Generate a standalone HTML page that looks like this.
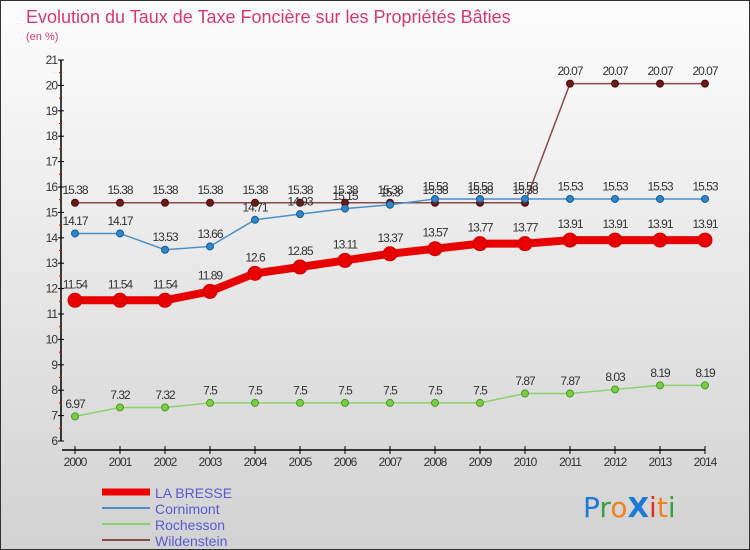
<!DOCTYPE html>
<html><head><meta charset="utf-8"><style>
body{margin:0;width:750px;height:550px;overflow:hidden;font-family:"Liberation Sans",sans-serif}
#c{position:absolute;left:0;top:0;width:748px;height:548px;border:1px solid #333;background:linear-gradient(#fdfdfd,#d2d2d2)}
</style></head><body>
<div id="c"></div>
<svg id="s" width="750" height="550" style="position:absolute;left:0;top:0">
<text x="26" y="23" font-size="18" fill="#d6396b">Evolution du Taux de Taxe Foncière sur les Propriétés Bâties</text>
<text x="26" y="40" font-size="11" fill="#d6396b">(en %)</text>
<g id="axes"></g><g id="series"></g>
<g>
<line x1="102" y1="492" x2="150" y2="492" stroke="#e00" stroke-width="7"/>
<text x="155" y="498" font-size="14" fill="#5a5ad0">LA BRESSE</text>
<line x1="102" y1="508" x2="150" y2="508" stroke="#4a90c8" stroke-width="2"/>
<text x="155" y="514" font-size="14" fill="#5a5ad0">Cornimont</text>
<line x1="102" y1="524" x2="150" y2="524" stroke="#8cd26a" stroke-width="2"/>
<text x="155" y="530" font-size="14" fill="#5a5ad0">Rochesson</text>
<line x1="102" y1="540" x2="150" y2="540" stroke="#8a4a4a" stroke-width="2"/>
<text x="155" y="546" font-size="14" fill="#5a5ad0">Wildenstein</text>
</g>
<g font-size="28" font-family="'DejaVu Sans',sans-serif">
<text x="583" y="517"><tspan fill="#1a7ad6">P</tspan><tspan fill="#3aa040">r</tspan><tspan fill="#f08020">o</tspan><tspan fill="#1a7ad6" font-weight="bold">X</tspan><tspan fill="#e03020">i</tspan><tspan fill="#f08020">t</tspan><tspan fill="#3aa040">i</tspan></text>
</g>
</svg>
<script>
const years=[2000,2001,2002,2003,2004,2005,2006,2007,2008,2009,2010,2011,2012,2013,2014];
const laBresse=[11.54,11.54,11.54,11.89,12.6,12.85,13.11,13.37,13.57,13.77,13.77,13.91,13.91,13.91,13.91];
const cornimont=[14.17,14.17,13.53,13.66,14.71,14.93,15.15,15.3,15.53,15.53,15.53,15.53,15.53,15.53,15.53];
const rochesson=[6.97,7.32,7.32,7.5,7.5,7.5,7.5,7.5,7.5,7.5,7.87,7.87,8.03,8.19,8.19];
const wildenstein=[15.38,15.38,15.38,15.38,15.38,15.38,15.38,15.38,15.38,15.38,15.38,20.07,20.07,20.07,20.07];
const yTicks=[6,7,8,9,10,11,12,13,14,15,16,17,18,19,20,21];
const NS="http://www.w3.org/2000/svg";
const X=i=>75+i*45.0;
const Y=v=>441-(v-6)*25.4;
function mk(t,a,p){const e=document.createElementNS(NS,t);for(const k in a)e.setAttribute(k,a[k]);p.appendChild(e);return e;}
const ax=document.getElementById('axes');
let l=mk('line',{x1:61,y1:Y(21),x2:61,y2:Y(6),stroke:'#000','stroke-width':1.5},ax);


l=mk('line',{x1:62,y1:450,x2:X(14),y2:450,stroke:'#000','stroke-width':1.5},ax);


yTicks.forEach(v=>{
 mk('line',{x1:58,y1:Y(v),x2:64,y2:Y(v),stroke:'#000'},ax);
 if(v<21) mk('line',{x1:59,y1:Y(v+0.5),x2:62,y2:Y(v+0.5),stroke:'#e00'},ax);
 const t=mk('text',{x:57,y:Y(v)+4,'text-anchor':'end','font-size':12,fill:'#333','letter-spacing':'-1'},ax);
 t.textContent=v;
 
 
});
years.forEach((yr,i)=>{
 mk('line',{x1:X(i),y1:446,x2:X(i),y2:454,stroke:'#000'},ax);
 const t=mk('text',{x:X(i),y:466,'text-anchor':'middle','font-size':12,fill:'#333','letter-spacing':'-1'},ax);
 t.textContent=yr;
 
 
});
const sg=document.getElementById('series');
function draw(name,data,color,w,r,fill,stroke){
 const g=mk('g',{},sg);
 
 
 const p=mk('polyline',{points:data.map((v,i)=>X(i)+','+Y(v)).join(' '),fill:'none',stroke:color,'stroke-width':w},g);
 
 
 data.forEach((v,i)=>{
  const c=mk('circle',{cx:X(i),cy:Y(v),r:r,fill:fill,stroke:stroke,'stroke-width':1},g);
  
  
  const t=mk('text',{x:X(i),y:Y(v)-r-5,'text-anchor':'middle','font-size':12,fill:'#333','letter-spacing':'-1'},g);
  t.textContent=v;
  
  
 });
}
draw('wildenstein',wildenstein,'#8a4a4a',1.5,3.5,'#6a1a1a','#4a0a0a');
draw('cornimont',cornimont,'#4a90c8',1.5,3.5,'#2f86c8','#1a5a90');
draw('rochesson',rochesson,'#8cd26a',1.5,3.5,'#7ccc44','#4a9a2a');
draw('la-bresse',laBresse,'#e80000',8,7,'#e80000','#c00');
</script>
</body></html>
